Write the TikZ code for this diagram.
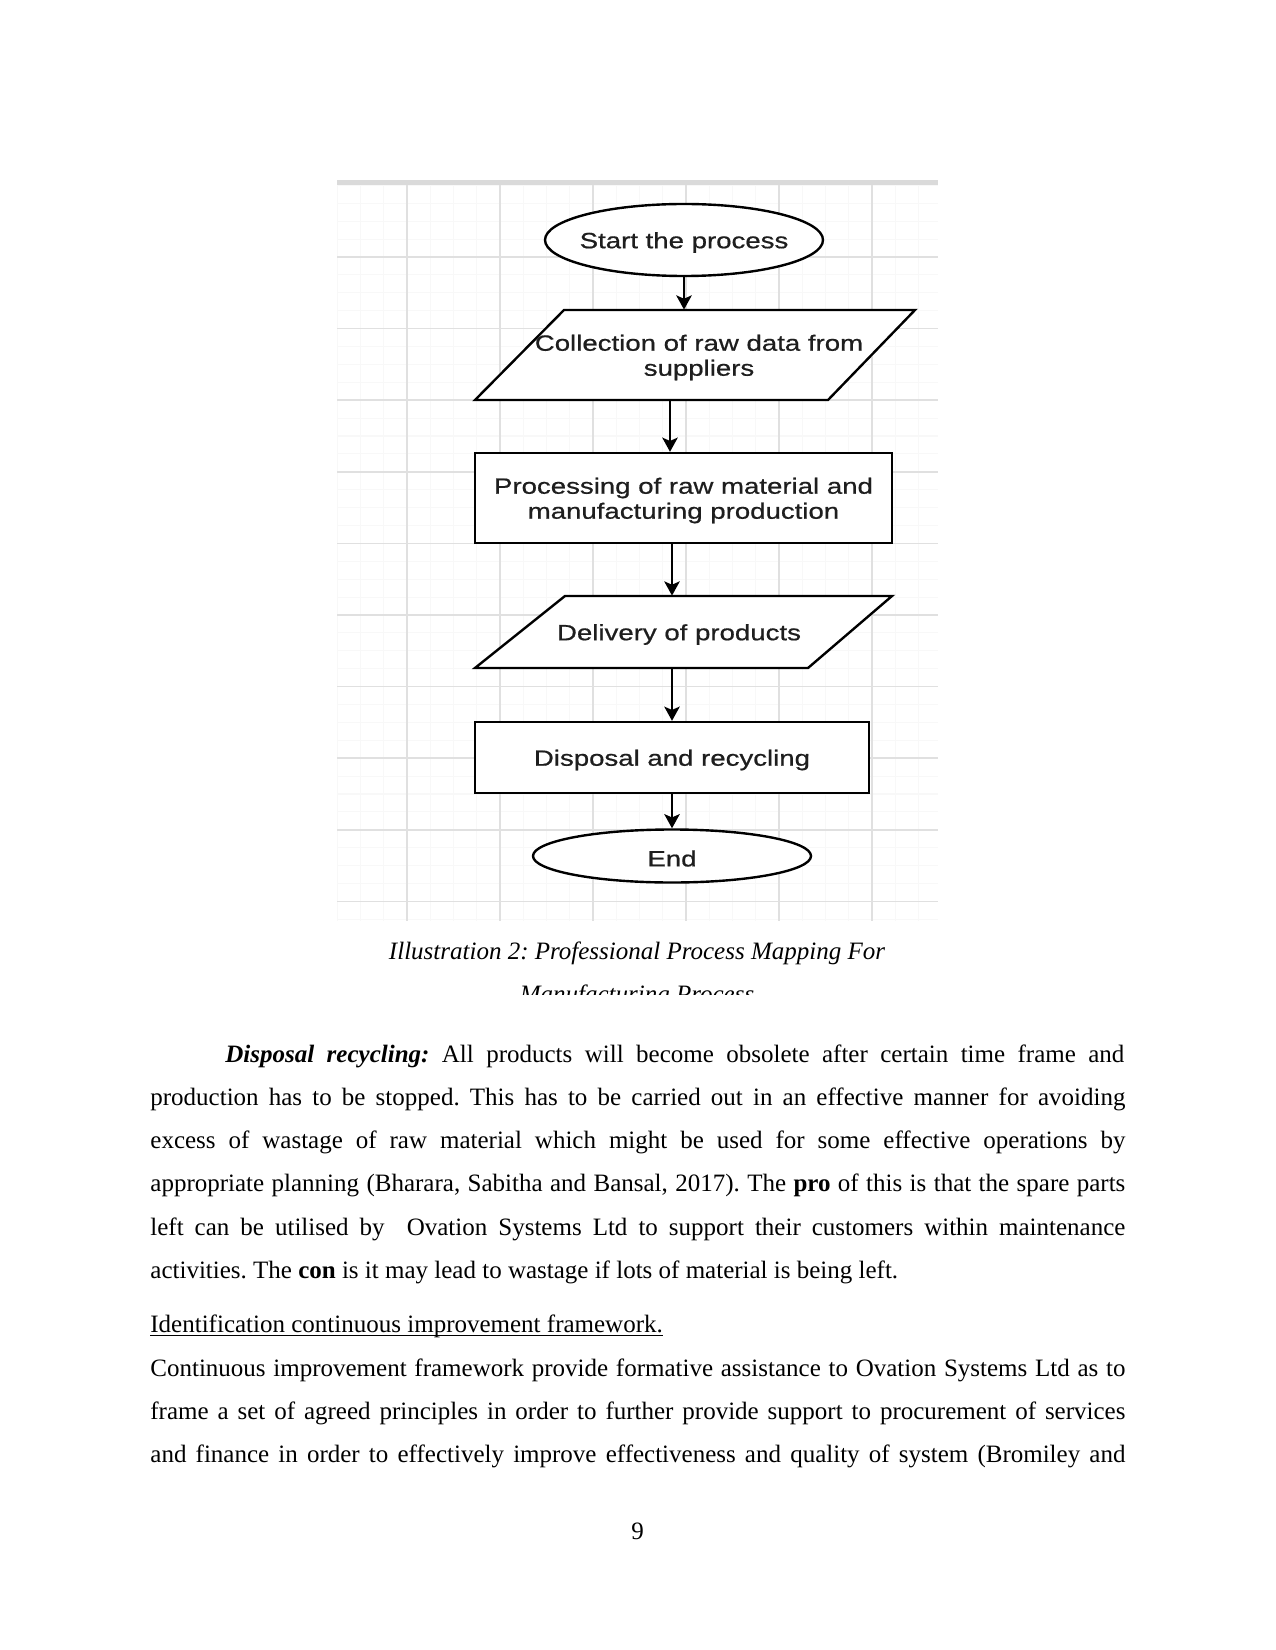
\documentclass[tikz,border=0pt]{standalone}
\usepackage{fontspec}
\setmainfont{Liberation Serif}
\newfontfamily\diagfont[FakeStretch=1.25, FakeBold=0.7]{Liberation Sans}
\usetikzlibrary{shapes.geometric,arrows.meta}
\newcommand\pxl[1]{#1*0.48pt}
\newcommand\dstrut{\rule{0pt}{10.1pt}}
\definecolor{gridmajor}{HTML}{E0E0E0}
\definecolor{gridminor}{HTML}{F8F8F8}
\definecolor{topbar}{HTML}{DADADA}
\definecolor{diagtext}{HTML}{1E1E1E}
\tikzset{
  shapeline/.style={draw=black, line width=1.15pt, fill=white},
  boxnode/.style={shapeline, rectangle, inner sep=0pt, align=center, font=\diagfont\fontsize{10.6}{12}\selectfont, text=diagtext},
  ovalnode/.style={shapeline, ellipse, inner sep=0pt, font=\diagfont\fontsize{10.6}{12}\selectfont, text=diagtext},
  paranode/.style={rectangle, inner sep=0pt, align=center, font=\diagfont\fontsize{10.6}{12}\selectfont, text=diagtext},
  arr/.style={line width=1.15pt, -{Stealth[length=6.8pt, width=7.4pt, inset=1.6pt]}},
  bodyline/.style={anchor=base west, inner sep=0pt, font=\fontsize{12}{14}\selectfont\frenchspacing},
  captext/.style={anchor=base, inner sep=0pt, font=\fontsize{12}{14}\selectfont\itshape\frenchspacing}
}
\begin{document}
\begin{tikzpicture}[x=0.48pt, y=-0.48pt]
\useasboundingbox (0,0) rectangle (1275,1650);
\fill[white] (0,0) rectangle (1275,1650);

% grid background of the screenshot
\fill[white] (337,183) rectangle (938,921);
\foreach \i in {0,...,25} {\draw[gridminor, line width=0.5pt] ({337.25+\i*23.25},183) -- ({337.25+\i*23.25},921);}
\foreach \j in {0,...,41} {\draw[gridminor, line width=0.5pt] (337,{185.4+\j*17.9}) -- (938,{185.4+\j*17.9});}
\foreach \k in {0,...,5} {\draw[gridmajor, line width=0.8pt] ({407+\k*93},183) -- ({407+\k*93},921);}
\foreach \j in {0,...,9} {\draw[gridmajor, line width=0.8pt] (337,{257+\j*71.6}) -- (938,{257+\j*71.6});}
\fill[topbar] (337,180) rectangle (938,185);

% parallelogram outlines
\draw[shapeline] (475,400) -- (828,400) -- (915,310) -- (564,310) -- cycle;
\draw[shapeline] (475,668) -- (808,668) -- (892,596) -- (565,596) -- cycle;

% nodes
\node[ovalnode, minimum width=\pxl{278}, minimum height=\pxl{72}] (start) at (684,240) {\makebox[0pt]{\dstrut Start the process}};
\node[paranode, minimum height=\pxl{90}] (p1) at (699,355) {\dstrut Collection of raw data from\\suppliers};
\node[boxnode, minimum width=\pxl{417}, minimum height=\pxl{90}] (r1) at (683.5,498) {\dstrut Processing of raw material and\\manufacturing production};
\node[paranode, minimum height=\pxl{72}] (p2) at (679,632) {\dstrut Delivery of products};
\node[boxnode, minimum width=\pxl{394}, minimum height=\pxl{71}] (r2) at (672,757.5) {\dstrut Disposal and recycling};
\node[ovalnode, minimum width=\pxl{278}, minimum height=\pxl{53}] (end) at (672,856) {\makebox[0pt]{\dstrut End}};

% connectors
\draw[arr] (start.south) -- (start.south |- p1.north);
\draw[arr] ([xshift=\pxl{-29}]p1.south) -- ([xshift=\pxl{-29}]p1.south |- r1.north);
\draw[arr] ([xshift=\pxl{-11.5}]r1.south) -- ([xshift=\pxl{-11.5}]r1.south |- p2.north);
\draw[arr] ([xshift=\pxl{-7}]p2.south) -- ([xshift=\pxl{-7}]p2.south |- r2.north);
\draw[arr] (r2.south) -- (r2.south |- end.north);

% caption
\node[captext] (cap1) at (637,959) {Illustration 2: Professional Process Mapping For};
\begin{scope}
\clip (300,940) rectangle (1000,994);
\node[captext] (cap2) at (637,1002) {Manufacturing Process};
\end{scope}

% body text
\node[bodyline] (b1) at (225,1062) {\makebox[431.5pt][s]{\textbf{\textit{Disposal recycling:}} All products will become obsolete after certain time frame and}};
\node[bodyline] (b2) at (150,1105) {\makebox[468pt][s]{production has to be stopped. This has to be carried out in an effective manner for avoiding}};
\node[bodyline] (b3) at (150,1148) {\makebox[468pt][s]{excess of wastage of raw material which might be used for some effective operations by}};
\node[bodyline] (b4) at (150,1191) {\makebox[468pt][s]{appropriate planning (Bharara, Sabitha and Bansal, 2017). The \textbf{pro} of this is that the spare parts}};
\node[bodyline] (b5) at (150,1235) {\makebox[468pt][s]{left can be utilised by \ Ovation Systems Ltd to support their customers within maintenance}};
\node[bodyline] (b6) at (150,1278) {activities. The \textbf{con} is it may lead to wastage if lots of material is being left.};

\node[bodyline] (h1) at (150,1332) {Identification continuous improvement framework.};
\draw[line width=0.55pt] ([yshift=-1.6pt]h1.base west) -- ([yshift=-1.6pt]h1.base east);

\node[bodyline] (c1) at (150,1376) {\makebox[468pt][s]{Continuous improvement framework provide formative assistance to Ovation Systems Ltd as to}};
\node[bodyline] (c2) at (150,1419) {\makebox[468pt][s]{frame a set of agreed principles in order to further provide support to procurement of services}};
\node[bodyline] (c3) at (150,1462) {\makebox[468pt][s]{and finance in order to effectively improve effectiveness and quality of system (Bromiley and}};

\node[anchor=base, inner sep=0pt, font=\fontsize{12}{14}\selectfont] (pg) at (637.5,1539) {9};
\end{tikzpicture}
\end{document}
